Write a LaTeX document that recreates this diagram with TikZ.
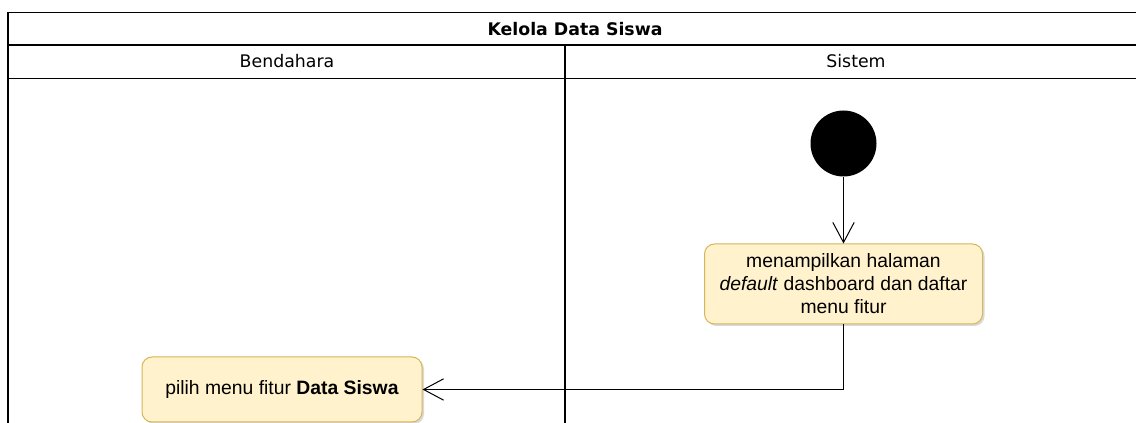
\documentclass[tikz,border=0pt]{standalone}
\usepackage{fontspec}
\setmainfont{Liberation Sans}
\newfontfamily\lanefont{DejaVu Sans}
\usetikzlibrary{arrows.meta,shadows}

\definecolor{boxfill}{HTML}{FFF2CC}
\definecolor{boxline}{HTML}{D6B656}

\tikzset{
    actbox/.style={draw=boxline, fill=boxfill, rounded corners=7.5pt, line width=0.75pt,
        align=center, inner sep=0pt, font=\fontsize{14.5}{17.25}\selectfont,
        drop shadow={shadow xshift=1.5pt, shadow yshift=-1.5pt, opacity=0.15, fill=black}},
    startnode/.style={circle, fill=black, minimum size=49.5pt, inner sep=0pt},
    flow/.style={-{Straight Barb[length=15pt,width=16pt]}, line width=0.75pt},
    lanetext/.style={font=\lanefont\fontsize{13}{15}\selectfont},
    lane/.style={line width=1pt}
}

\begin{document}
\begin{tikzpicture}[x=0.75pt, y=-0.75pt]
    \useasboundingbox (0,0) rectangle (1136,423);

    \draw[lane] (1136,12.5) -- (8,12.5) -- (8,423);
    \draw[lane] (8,45) -- (1136,45);
    \draw[lane] (8,78.5) -- (1136,78.5);
    \draw[lane] (565,45) -- (565,423);

    \node[lanetext] (judul) at (575,29) {\textbf{Kelola Data Siswa}};
    \node[lanetext] (bendahara) at (287,61.5) {Bendahara};
    \node[lanetext] (sistem) at (856,61.5) {Sistem};

    \node[startnode] (mulai) at (843.5,143.5) {};
    \node[actbox, minimum width=208.5pt, minimum height=60pt] (tampil) at (843.5,284)
        {menampilkan halaman\\\textit{default} dashboard dan daftar\\menu fitur};
    \node[actbox, minimum width=210pt, minimum height=48.75pt] (pilih) at (282,389.5)
        {pilih menu fitur \textbf{Data Siswa}};

    \draw[flow] (mulai) -- (tampil);
    \draw[flow] (tampil.south) |- (pilih.east);
\end{tikzpicture}
\end{document}
